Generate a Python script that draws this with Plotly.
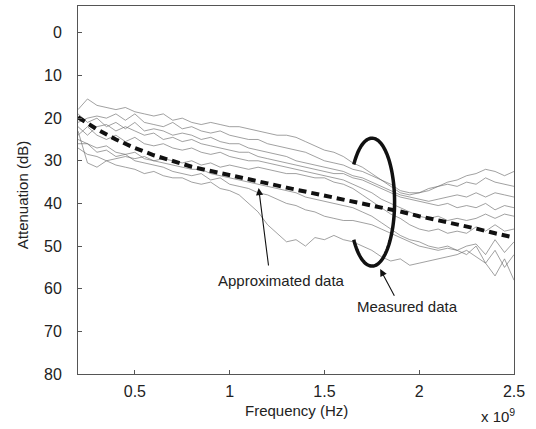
import numpy as np
import plotly.graph_objects as go

# Frequency grid (x 10^9 Hz) for the measured curves
freq = [0.20, 0.25, 0.30, 0.35, 0.40, 0.45, 0.50, 0.55, 0.60, 0.65, 0.70, 0.75,
        0.80, 0.85, 0.90, 0.95, 1.00, 1.05, 1.10, 1.15, 1.20, 1.25, 1.30, 1.35,
        1.40, 1.45, 1.50, 1.55, 1.60, 1.65, 1.70, 1.75, 1.80, 1.85, 1.90, 1.95,
        2.00, 2.05, 2.10, 2.15, 2.20, 2.25, 2.30, 2.35, 2.40, 2.45, 2.50]

meas1 = [18, 15.5, 17, 17.5, 18, 17.5, 18.5, 19, 19.5, 19, 20.5, 20, 21, 21.5, 21, 21.5,
         22, 22, 22.5, 23, 23.5, 24, 24, 24.5, 25.5, 26.5, 27.5, 28, 29, 30.5, 31.5, 33,
         34.5, 36, 37.5, 38, 37.5, 37, 36, 35, 34.5, 33.5, 33, 32, 32.5, 33.5, 32.5]
meas2 = [21, 20, 19.5, 20, 19, 20.5, 19, 21, 21.5, 22, 21, 22.5, 22, 23, 23.5, 23,
         24, 24.5, 25, 25, 26, 26.5, 27, 27.5, 28, 29, 30, 30.5, 31, 32, 32.5, 33.5,
         34.5, 35.5, 37, 37.5, 37.5, 36.5, 36, 35.5, 36, 35, 35.5, 34, 35, 35.5, 36]
meas3 = [19, 21, 20, 22, 21, 22.5, 21, 23, 22.5, 23, 24, 23.5, 24, 25, 24.5, 25.5,
         26, 26, 27, 27.5, 28, 28.5, 29, 30, 30.5, 31, 31.5, 32, 32.5, 33.5, 34, 35,
         36, 37, 38, 38.5, 39, 39.5, 39, 38.5, 38, 38.5, 37.5, 38.5, 37.5, 38, 38.5]
meas4 = [22, 24, 22, 21.5, 23, 22, 23, 24, 23.5, 25, 24.5, 25.5, 25, 26, 26.5, 27,
         27.5, 28, 28, 29, 29.5, 30, 30.5, 31, 31.5, 32, 32.5, 33, 33, 34, 34.5, 35.5,
         36.5, 37.5, 38.5, 39, 39.5, 40, 40.5, 40, 41, 40.5, 41, 40, 41.5, 40.5, 41]
meas5 = [24, 22, 24, 25, 24, 25.5, 24.5, 26, 26.5, 26, 27, 27.5, 27, 28, 28.5, 28,
         29, 29.5, 30, 30, 30.5, 31, 31.5, 32, 32.5, 33, 33.5, 34, 34.5, 35.5, 36.5, 37.5,
         39, 40, 41, 42, 43, 43.5, 43, 44, 43.5, 44, 43.5, 42.5, 43.5, 42.5, 43]
meas6 = [23, 30.5, 31.5, 30, 29.5, 29, 29.5, 29, 30, 29.5, 30, 30.5, 30, 31, 30.5, 31.5,
         31, 31.5, 32, 31.5, 32, 32.5, 33, 33, 33.5, 34, 34, 35, 35.5, 36.5, 38, 39.5,
         41, 42.5, 43.5, 45, 46, 46.5, 46, 47, 46.5, 47, 45.5, 46.5, 45, 46.5, 46]
meas7 = [25, 26, 27, 26.5, 28, 28.5, 28, 29.5, 30, 30.5, 31, 31.5, 32, 32, 33, 33.5,
         34, 34.5, 35, 35.5, 36, 36.5, 37, 37.5, 38.5, 39, 39.5, 40, 40.5, 41, 42, 43,
         44.5, 46, 47.5, 48.5, 49, 50, 50.5, 50, 51, 50, 49.5, 52, 48.5, 51.5, 49]
meas8 = [26, 26, 28, 27.5, 29, 28.5, 30, 30.5, 31, 31.5, 32.5, 33, 33.5, 33, 34.5, 34,
         35.5, 36, 36.5, 37.5, 38, 39, 40, 40.5, 41.5, 42, 43, 43.5, 44, 44, 44.5, 45,
         46, 47, 48, 49, 50, 50.5, 51, 50.5, 51, 52, 50, 54, 51, 55, 52]
meas9 = [27, 28.5, 29, 30, 31, 31.5, 32, 33, 32.5, 33.5, 34, 34, 35, 35.5, 35, 36.5,
         37, 38, 40, 42, 45, 47, 49, 48.5, 50, 48, 48.5, 47.5, 48.5, 49, 50, 51,
         52.5, 53.5, 53, 54.5, 54, 53.5, 53, 52.5, 52, 51, 52.5, 54, 57, 53, 58]
measured = [meas1, meas2, meas3, meas4, meas5, meas6, meas7, meas8, meas9]

# Approximated curve
approx_freq = [0.2, 0.3, 0.4, 0.5, 0.6, 0.7, 0.8, 0.9, 1.0, 1.1, 1.2, 1.3,
               1.4, 1.5, 1.6, 1.7, 1.8, 1.9, 2.0, 2.1, 2.2, 2.3, 2.4, 2.5]
approx_att = [19.8, 22.6, 25.0, 27.0, 28.7, 30.1, 31.4, 32.4, 33.3, 34.3, 35.3, 36.3,
              37.2, 38.2, 39.2, 40.1, 41.0, 41.9, 43.0, 43.9, 44.9, 45.9, 47.0, 48.0]

x_ticks = [0.5, 1.0, 1.5, 2.0, 2.5]
x_ticklabels = ["0.5", "1", "1.5", "2", "2.5"]
y_ticks = [0, 10, 20, 30, 40, 50, 60, 70, 80]

FONT = "Arial, Liberation Sans, sans-serif"
TXT = "#222222"

fig = go.Figure()
for m in measured:
    fig.add_trace(go.Scatter(x=freq, y=m, mode="lines",
                             line=dict(color="rgba(105,105,105,0.7)", width=0.9),
                             showlegend=False, hoverinfo="skip"))
fig.add_trace(go.Scatter(x=approx_freq, y=approx_att, mode="lines",
                         line=dict(color="#111111", width=4, dash="8px,5px"),
                         showlegend=False, hoverinfo="skip"))

# Broken ellipse marking the measured data
cx, cy, ax_, by_ = 1.751, 39.7, 0.119, 15.0
t = np.radians(np.linspace(216, 504, 120))
ex = cx + ax_ * np.cos(t)
ey = cy + by_ * np.sin(t)
path = "M " + " L ".join(f"{a:.5f},{b:.4f}" for a, b in zip(ex, ey))
fig.add_shape(type="path", path=path, xref="x", yref="y",
              line=dict(color="#111111", width=3.5))

# Arrows
fig.add_annotation(x=1.153, y=36.4, ax=1.206, ay=54.9, xref="x", yref="y",
                   axref="x", ayref="y", text="", showarrow=True,
                   arrowhead=2, arrowsize=1.3, arrowwidth=1.1, arrowcolor="#111")
fig.add_annotation(x=1.794, y=55.4, ax=1.873, ay=62.0, xref="x", yref="y",
                   axref="x", ayref="y", text="", showarrow=True,
                   arrowhead=2, arrowsize=1.3, arrowwidth=1.1, arrowcolor="#111")
fig.add_annotation(x=1.275, y=58.0, xref="x", yref="y", text="Approximated data",
                   showarrow=False, font=dict(family=FONT, size=15, color=TXT))
fig.add_annotation(x=1.937, y=64.1, xref="x", yref="y", text="Measured data",
                   showarrow=False, font=dict(family=FONT, size=15, color=TXT))

# Axis titles and exponent
fig.add_annotation(x=-0.1284, y=0.486, xref="paper", yref="paper",
                   text="Attenuation (dB)", textangle=-90, showarrow=False,
                   xanchor="center", yanchor="middle",
                   font=dict(family=FONT, size=15, color=TXT))
fig.add_annotation(x=0.5, y=-0.1005, xref="paper", yref="paper",
                   text="Frequency (Hz)", showarrow=False,
                   xanchor="center", yanchor="middle",
                   font=dict(family=FONT, size=15, color=TXT))
fig.add_annotation(x=0.963, y=-0.112, xref="paper", yref="paper",
                   text="x 10<sup>9</sup>", showarrow=False,
                   xanchor="center", yanchor="middle",
                   font=dict(family=FONT, size=15, color=TXT))

fig.update_layout(
    width=536, height=429,
    margin=dict(l=78, r=22, t=6, b=55),
    paper_bgcolor="white", plot_bgcolor="white",
    xaxis=dict(range=[0.2, 2.5], tickvals=x_ticks, ticktext=x_ticklabels,
               ticks="inside", ticklen=4, tickcolor="#555", showgrid=False,
               zeroline=False, showline=True, linecolor="#555", linewidth=1,
               mirror=True, ticklabelstandoff=3,
               tickfont=dict(family=FONT, size=16, color=TXT)),
    yaxis=dict(range=[80, -6.3], tickvals=y_ticks,
               ticks="inside", ticklen=4, tickcolor="#555", showgrid=False,
               zeroline=False, showline=True, linecolor="#555", linewidth=1,
               mirror=True, ticklabelstandoff=12,
               tickfont=dict(family=FONT, size=16, color=TXT)),
)

fig.write_html("out.html")
